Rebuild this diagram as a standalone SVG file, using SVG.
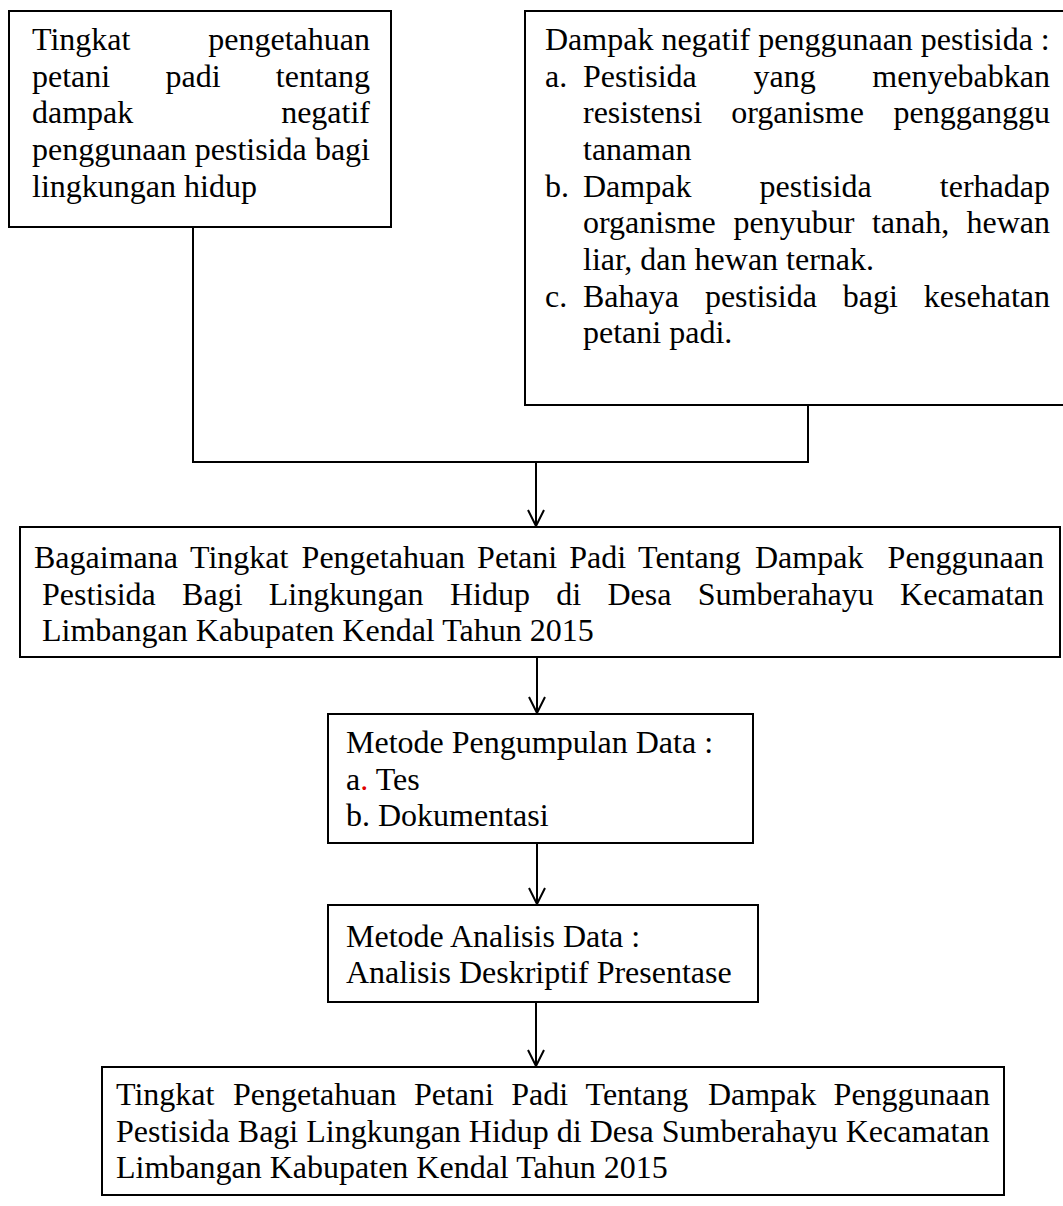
<svg xmlns="http://www.w3.org/2000/svg" width="1063" height="1206" viewBox="0 0 1063 1206">
<defs>
<style>
.box{fill:#fff;stroke:#000;stroke-width:2}
.t{font-family:"Liberation Serif","Times New Roman",serif;font-size:32px;fill:#000}
.e{text-anchor:end}
.c{fill:none;stroke:#000;stroke-width:2}
</style>
<marker id="v" viewBox="-18 -10 20 20" refX="0" refY="0" markerWidth="20" markerHeight="20" orient="auto" markerUnits="userSpaceOnUse">
<path d="M-16,-8 L0,0 L-16,8" fill="none" stroke="#000" stroke-width="2"/>
</marker>
</defs>
<rect width="1063" height="1206" fill="#fff"/>

<g id="connectors">
<polyline class="c" points="193,227 193,462 808,462 808,405"/>
<line class="c" x1="536" y1="462" x2="536" y2="526" marker-end="url(#v)"/>
<line class="c" x1="537" y1="657" x2="537" y2="713" marker-end="url(#v)"/>
<line class="c" x1="537" y1="843" x2="537" y2="904" marker-end="url(#v)"/>
<line class="c" x1="536" y1="1002" x2="536" y2="1066" marker-end="url(#v)"/>
</g>

<g id="node-pengetahuan">
<rect class="box" x="9" y="11" width="382" height="216"/>
<text class="t" x="32" y="50">Tingkat</text>
<text class="t e" x="370" y="50">pengetahuan</text>
<text class="t" x="32" y="86.7">petani</text>
<text class="t" x="165.5" y="86.7">padi</text>
<text class="t e" x="370" y="86.7">tentang</text>
<text class="t" x="32" y="123.3">dampak</text>
<text class="t e" x="370" y="123.3">negatif</text>
<text class="t" x="32" y="160">penggunaan</text>
<text class="t" x="194.8" y="160">pestisida</text>
<text class="t e" x="370" y="160">bagi</text>
<text class="t" x="32" y="196.7">lingkungan hidup</text>
</g>

<g id="node-dampak">
<rect class="box" x="525" y="11" width="541" height="394"/>
<text class="t" x="545" y="50">Dampak negatif penggunaan pestisida :</text>
<text class="t" x="545" y="86.65">a.</text>
<text class="t" x="583" y="86.65">Pestisida</text>
<text class="t" x="753.5" y="86.65">yang</text>
<text class="t e" x="1050" y="86.65">menyebabkan</text>
<text class="t" x="583" y="123.3">resistensi</text>
<text class="t" x="731.2" y="123.3">organisme</text>
<text class="t e" x="1050" y="123.3">pengganggu</text>
<text class="t" x="583" y="160">tanaman</text>
<text class="t" x="545" y="196.6">b.</text>
<text class="t" x="583" y="196.6">Dampak</text>
<text class="t" x="759.6" y="196.6">pestisida</text>
<text class="t e" x="1050" y="196.6">terhadap</text>
<text class="t" x="583" y="233.25">organisme</text>
<text class="t" x="733.6" y="233.25">penyubur</text>
<text class="t" x="871.9" y="233.25">tanah,</text>
<text class="t e" x="1050" y="233.25">hewan</text>
<text class="t" x="583" y="269.9">liar, dan hewan ternak.</text>
<text class="t" x="545" y="306.55">c.</text>
<text class="t" x="583" y="306.55">Bahaya</text>
<text class="t" x="704.9" y="306.55">pestisida</text>
<text class="t" x="842.8" y="306.55">bagi</text>
<text class="t e" x="1050" y="306.55">kesehatan</text>
<text class="t" x="583" y="343.2">petani padi.</text>
</g>

<g id="node-rumusan">
<rect class="box" x="20" y="527" width="1040" height="130"/>
<text class="t" x="34" y="568">Bagaimana</text>
<text class="t" x="190" y="568">Tingkat</text>
<text class="t" x="301.6" y="568">Pengetahuan</text>
<text class="t" x="477.1" y="568">Petani</text>
<text class="t" x="569.2" y="568">Padi</text>
<text class="t" x="638.1" y="568">Tentang</text>
<text class="t" x="755" y="568">Dampak</text>
<text class="t e" x="1044" y="568">Penggunaan</text>
<text class="t" x="42" y="604.6">Pestisida</text>
<text class="t" x="182.1" y="604.6">Bagi</text>
<text class="t" x="268.8" y="604.6">Lingkungan</text>
<text class="t" x="449.9" y="604.6">Hidup</text>
<text class="t" x="556.2" y="604.6">di</text>
<text class="t" x="607.4" y="604.6">Desa</text>
<text class="t" x="697.8" y="604.6">Sumberahayu</text>
<text class="t e" x="1044" y="604.6">Kecamatan</text>
<text class="t" x="42" y="641.2">Limbangan Kabupaten Kendal Tahun 2015</text>
</g>

<g id="node-pengumpulan">
<rect class="box" x="328" y="714" width="425" height="129"/>
<text class="t" x="346" y="753">Metode Pengumpulan Data :</text>
<text class="t" x="346" y="789.6">a<tspan fill="#e00000">.</tspan> Tes</text>
<text class="t" x="346" y="826.3">b. Dokumentasi</text>
</g>

<g id="node-analisis">
<rect class="box" x="328" y="905" width="430" height="97"/>
<text class="t" x="346" y="946.7">Metode Analisis Data :</text>
<text class="t" x="346" y="983.3">Analisis Deskriptif Presentase</text>
</g>

<g id="node-hasil">
<rect class="box" x="102" y="1067" width="902" height="128"/>
<text class="t" x="116" y="1105">Tingkat</text>
<text class="t" x="233" y="1105">Pengetahuan</text>
<text class="t" x="413.9" y="1105">Petani</text>
<text class="t" x="511.3" y="1105">Padi</text>
<text class="t" x="585.6" y="1105">Tentang</text>
<text class="t" x="707.9" y="1105">Dampak</text>
<text class="t e" x="990" y="1105">Penggunaan</text>
<text class="t" x="116" y="1141.6">Pestisida Bagi Lingkungan Hidup di Desa Sumberahayu Kecamatan</text>
<text class="t" x="116" y="1178.3">Limbangan Kabupaten Kendal Tahun 2015</text>
</g>
</svg>
